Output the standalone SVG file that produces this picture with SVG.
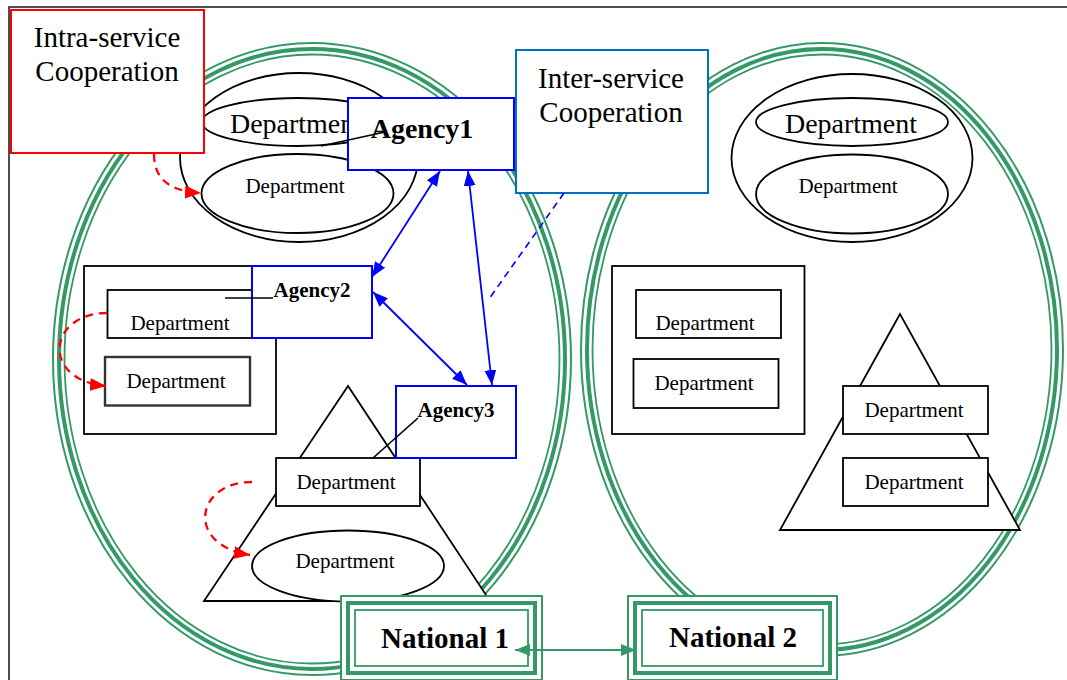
<svg xmlns="http://www.w3.org/2000/svg" width="1067" height="680" viewBox="0 0 1067 680">
<style>
.g{fill:none;stroke:#339966}
.k{fill:none;stroke:#000;stroke-width:1.8}
.kw{fill:#fff;stroke:#000;stroke-width:1.8}
.t{font-family:"Liberation Serif","Times New Roman",serif;fill:#000;text-anchor:middle}
.d{font-size:21px}
.D{font-size:28px}
.b{font-weight:bold}
.ag{fill:#fff;stroke:#0000ff;stroke-width:2}
.co{fill:none;stroke:#000;stroke-width:1.6}
.nb{fill:none;stroke:#339966}
.rd{fill:none;stroke:#ff0000;stroke-width:2.3;stroke-dasharray:8,6}
</style>
<defs>
<marker id="ab" markerUnits="userSpaceOnUse" markerWidth="15" markerHeight="12" refX="15" refY="6" orient="auto-start-reverse"><path d="M0,0 L15,6 L0,12 z" fill="#0000ff"/></marker>
<marker id="ar" markerUnits="userSpaceOnUse" markerWidth="16" markerHeight="13" refX="16" refY="6.5" orient="auto"><path d="M0,0 L16,6.5 L0,13 z" fill="#ff0000"/></marker>
<marker id="ag" markerUnits="userSpaceOnUse" markerWidth="15" markerHeight="12" refX="15" refY="6" orient="auto-start-reverse"><path d="M0,0 L15,6 L0,12 z" fill="#339966"/></marker>
</defs>
<rect x="9" y="7" width="1080" height="700" fill="#fff" stroke="#222" stroke-width="1.6"/>

<g id="service1">
<ellipse class="g" cx="312" cy="359" rx="259" ry="316" stroke-width="2"/>
<ellipse class="g" cx="312" cy="359" rx="253" ry="310" stroke-width="4"/>
<ellipse class="g" cx="312" cy="359" rx="247.5" ry="304.5" stroke-width="1.8"/>
</g>
<g id="service2">
<ellipse class="g" cx="822" cy="349.5" rx="241" ry="306.5" stroke-width="2"/>
<ellipse class="g" cx="822" cy="349.5" rx="235" ry="300.5" stroke-width="4"/>
<ellipse class="g" cx="822" cy="349.5" rx="229.5" ry="295" stroke-width="1.8"/>
</g>

<g id="agency1-depts">
<ellipse class="k" cx="299" cy="157.5" rx="119" ry="84.5"/>
<ellipse class="k" cx="298" cy="122" rx="96" ry="24"/>
<text class="t D" x="296" y="133">Department</text>
<ellipse class="k" cx="297.5" cy="193.5" rx="96" ry="39.5"/>
<text class="t d" x="295" y="193">Department</text>
</g>

<g id="intra">
<rect x="11" y="10" width="193" height="143" fill="#fff" stroke="#ff0000" stroke-width="2"/>
<text class="t" font-size="29" x="107" y="47">Intra-service</text>
<text class="t" font-size="29" x="107" y="81">Cooperation</text>
</g>

<g id="inter">
<rect x="516" y="50" width="192" height="143" fill="#fff" stroke="#0070c0" stroke-width="2"/>
<text class="t" font-size="29" x="611" y="88">Inter-service</text>
<text class="t" font-size="29" x="611" y="122">Cooperation</text>
</g>

<g id="agency2-depts">
<rect class="k" x="84" y="266" width="192" height="168"/>
<rect class="k" x="107.5" y="290" width="145" height="48"/>
<text class="t d" x="180" y="330">Department</text>
<rect x="105" y="357" width="145" height="48.5" fill="none" stroke="#333" stroke-width="2.4"/>
<text class="t d" x="176" y="388">Department</text>
</g>

<g id="agency3-depts">
<polygon class="kw" points="348,386 204,601 490,601"/>
<rect class="kw" x="276" y="458" width="144" height="48"/>
<text class="t d" x="346" y="489">Department</text>
<ellipse class="kw" cx="348" cy="566" rx="96" ry="35.5"/>
<text class="t d" x="345" y="568">Department</text>
</g>

<g id="nat2-ellipse-depts">
<ellipse class="k" cx="852" cy="158" rx="120.5" ry="84"/>
<ellipse class="k" cx="852" cy="122" rx="96" ry="24"/>
<text class="t D" x="851" y="133">Department</text>
<ellipse class="k" cx="852" cy="194" rx="96" ry="39.5"/>
<text class="t d" x="848" y="193">Department</text>
</g>

<g id="nat2-rect-depts">
<rect class="k" x="612" y="266" width="192.5" height="168"/>
<rect class="k" x="636" y="290" width="145" height="48"/>
<text class="t d" x="705" y="330">Department</text>
<rect class="k" x="633.5" y="359" width="145" height="49"/>
<text class="t d" x="704" y="390">Department</text>
</g>

<g id="nat2-tri-depts">
<polygon class="kw" points="900,314 780,530 1020,530"/>
<rect class="kw" x="843" y="386" width="145" height="48"/>
<text class="t d" x="914" y="417">Department</text>
<rect class="kw" x="843" y="458" width="145" height="48"/>
<text class="t d" x="914" y="489">Department</text>
</g>

<g id="agency1">
<rect class="ag" x="348" y="98" width="166" height="72"/>
<text class="t b" font-size="28" x="422" y="138">Agency1</text>
<line class="co" x1="321" y1="146" x2="385" y2="132"/>
</g>
<g id="agency2">
<rect class="ag" x="252" y="266" width="120" height="72"/>
<text class="t b" font-size="21" x="312" y="297">Agency2</text>
<line class="co" x1="225" y1="298" x2="273" y2="298"/>
</g>
<g id="agency3">
<rect class="ag" x="396" y="386" width="120" height="72"/>
<text class="t b" font-size="21" x="456" y="417">Agency3</text>
<line class="co" x1="373" y1="458" x2="418" y2="418"/>
</g>

<g id="national1">
<rect x="341" y="596" width="201" height="84" fill="#fff" stroke="#339966" stroke-width="2"/>
<rect class="nb" x="348" y="603" width="187" height="70" stroke-width="4"/>
<rect class="nb" x="355" y="610" width="173" height="56" stroke-width="1.8"/>
<text class="t b" font-size="29" x="445" y="648">National 1</text>
</g>
<g id="national2">
<rect x="628" y="596" width="209" height="84" fill="#fff" stroke="#339966" stroke-width="2"/>
<rect class="nb" x="635" y="603" width="195" height="70" stroke-width="4"/>
<rect class="nb" x="642" y="610" width="181" height="56" stroke-width="1.8"/>
<text class="t b" font-size="29" x="733" y="647">National 2</text>
</g>

<g id="connectors">
<line x1="440" y1="171" x2="372" y2="277" stroke="#0000ff" stroke-width="1.8" marker-start="url(#ab)" marker-end="url(#ab)"/>
<line x1="468" y1="171" x2="492" y2="385" stroke="#0000ff" stroke-width="1.8" marker-start="url(#ab)" marker-end="url(#ab)"/>
<line x1="373" y1="292" x2="467" y2="385" stroke="#0000ff" stroke-width="1.8" marker-start="url(#ab)" marker-end="url(#ab)"/>
<line x1="564" y1="193" x2="489" y2="299" stroke="#0000ff" stroke-width="1.6" stroke-dasharray="7,5"/>
<path class="rd" d="M154,154 C154,178 168,191 201,193" marker-end="url(#ar)"/>
<path class="rd" d="M107,313 C48,313 40,380 106,386" marker-end="url(#ar)"/>
<path class="rd" d="M252,482 C195,482 185,545 250,555" marker-end="url(#ar)"/>
<line x1="515" y1="650" x2="636" y2="650" stroke="#339966" stroke-width="2" marker-start="url(#ag)" marker-end="url(#ag)"/>
</g>
</svg>
